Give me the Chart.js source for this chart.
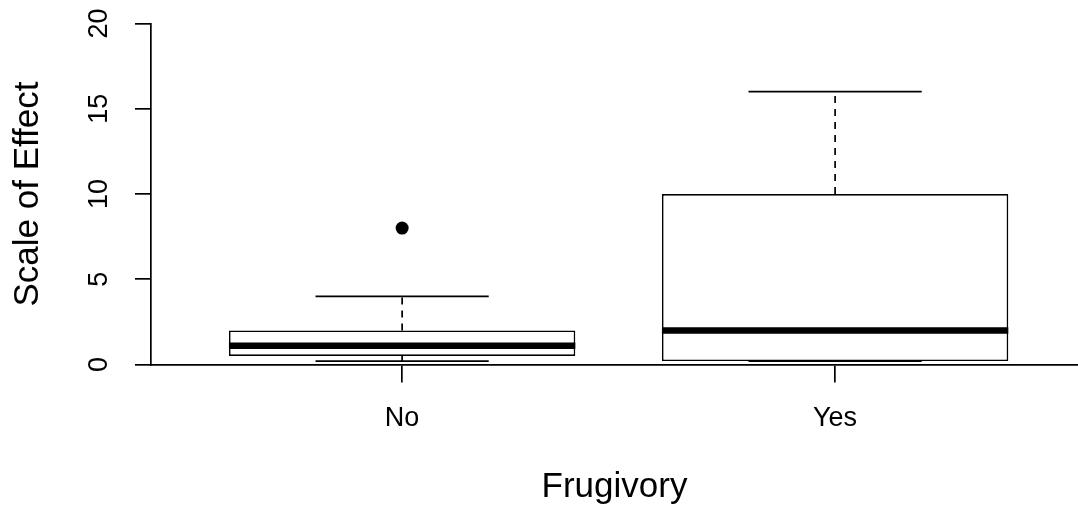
<!DOCTYPE html>
<html lang="en">
<head>
  <meta charset="UTF-8">
  <title>Scale of Effect by Frugivory</title>
  <script src="https://cdn.jsdelivr.net/npm/chart.js"></script>
  <style>
    body {
      margin: 0;
      background-color: #ffffff;
    }
    #wrap {
      width: 1078px;
      height: 512px;
      position: relative;
    }
  </style>
</head>
<body>
  <div id="wrap"><canvas id="boxChart"></canvas></div>

  <script>
    // boxplot summary per group
    const groups = ['No', 'Yes'];
    const whiskerLow = [0.2, 0.2];
    const quartile1 = [0.5, 0.2];
    const medians = [1.1, 2];
    const quartile3 = [2, 10];
    const whiskerHigh = [4, 16];
    const outliers = [[8], []];
    const yTicks = [0, 5, 10, 15, 20];

    const FONT = "'Liberation Sans', Arial, sans-serif";
    const BOX_HALF = 0.4;
    const CAP_HALF = 0.2;

    const gap = x => ({ x: x, y: null });

    const boxData = groups.map((g, i) => ({ x: i + 1, y: [quartile1[i], quartile3[i]] }));
    const medianData = [];
    const whiskerData = [];
    const capData = [];
    const outlierData = [];
    groups.forEach((g, i) => {
      const x = i + 1;
      medianData.push({ x: x - BOX_HALF, y: medians[i] }, { x: x + BOX_HALF, y: medians[i] }, gap(x + 0.5));
      whiskerData.push({ x: x, y: quartile3[i] }, { x: x, y: whiskerHigh[i] }, gap(x),
                       { x: x, y: quartile1[i] }, { x: x, y: whiskerLow[i] }, gap(x + 0.5));
      capData.push({ x: x - CAP_HALF, y: whiskerHigh[i] }, { x: x + CAP_HALF, y: whiskerHigh[i] }, gap(x),
                   { x: x - CAP_HALF, y: whiskerLow[i] }, { x: x + CAP_HALF, y: whiskerLow[i] }, gap(x + 0.5));
      outliers[i].forEach(v => outlierData.push({ x: x, y: v }));
    });

    // y tick labels are rotated like R's default las=0
    const rotatedYLabels = {
      id: 'rotatedYLabels',
      afterDraw(chart) {
        const y = chart.scales.y;
        const ctx = chart.ctx;
        ctx.save();
        ctx.fillStyle = '#000';
        ctx.font = `27px ${FONT}`;
        ctx.textAlign = 'center';
        ctx.textBaseline = 'middle';
        yTicks.forEach(t => {
          ctx.save();
          ctx.translate(100, y.getPixelForValue(t));
          ctx.rotate(-Math.PI / 2);
          ctx.fillText(String(t), 0, 0);
          ctx.restore();
        });
        ctx.restore();
      }
    };

    const line = { pointRadius: 0, fill: false, spanGaps: false, borderColor: '#000', tension: 0 };

    new Chart(document.getElementById('boxChart'), {
      type: 'bar',
      data: {
        datasets: [
          { type: 'line', data: whiskerData, ...line, borderWidth: 1.7, borderDash: [7, 6], order: 4 },
          { type: 'line', data: capData, ...line, borderWidth: 1.7, order: 3 },
          { type: 'bar', data: boxData, backgroundColor: '#ffffff', borderColor: '#000',
            borderWidth: 1.7, borderSkipped: false, barPercentage: 0.8, categoryPercentage: 1, order: 2 },
          { type: 'line', data: medianData, ...line, borderWidth: 6.5, borderCapStyle: 'butt', order: 1 },
          { type: 'scatter', data: outlierData, pointRadius: 6.5, pointBackgroundColor: '#000',
            pointBorderWidth: 0, showLine: false, order: 0 }
        ]
      },
      options: {
        responsive: true,
        maintainAspectRatio: false,
        animation: false,
        layout: { autoPadding: false, padding: { top: 23.5, left: 0, right: 0, bottom: 0 } },
        plugins: { legend: { display: false }, tooltip: { enabled: false } },
        scales: {
          x: {
            type: 'linear',
            min: 0.42,
            max: 2.561,
            offset: false,
            afterBuildTicks: s => { s.ticks = groups.map((g, i) => ({ value: i + 1 })); },
            afterFit: s => { s.height = 147.5; s.paddingLeft = 0; s.paddingRight = 0; },
            ticks: {
              autoSkip: false,
              maxRotation: 0,
              padding: 20,
              color: '#000',
              font: { family: FONT, size: 27, lineHeight: 1.2 },
              callback: v => groups[v - 1]
            },
            grid: { offset: false, drawOnChartArea: false, drawTicks: true, tickLength: 18, color: '#000', lineWidth: 1.7 },
            border: { display: true, color: '#000', width: 1.7 },
            title: {
              display: true,
              text: 'Frugivory',
              color: '#000',
              font: { family: FONT, size: 35, lineHeight: 1.2 },
              padding: { top: 0, bottom: 4 }
            }
          },
          y: {
            min: 0,
            max: 20,
            afterBuildTicks: s => { s.ticks = yTicks.map(v => ({ value: v })); },
            afterFit: s => { s.width = 151; },
            ticks: { display: false },
            grid: { drawOnChartArea: false, drawTicks: true, tickLength: 16, color: '#000', lineWidth: 1.7 },
            border: { display: true, color: '#000', width: 1.7 },
            title: {
              display: true,
              text: 'Scale of Effect',
              color: '#000',
              font: { family: FONT, size: 35, lineHeight: 1.2 },
              padding: { top: 7, bottom: 0 }
            }
          }
        }
      },
      plugins: [rotatedYLabels]
    });
  </script>
</body>
</html>
